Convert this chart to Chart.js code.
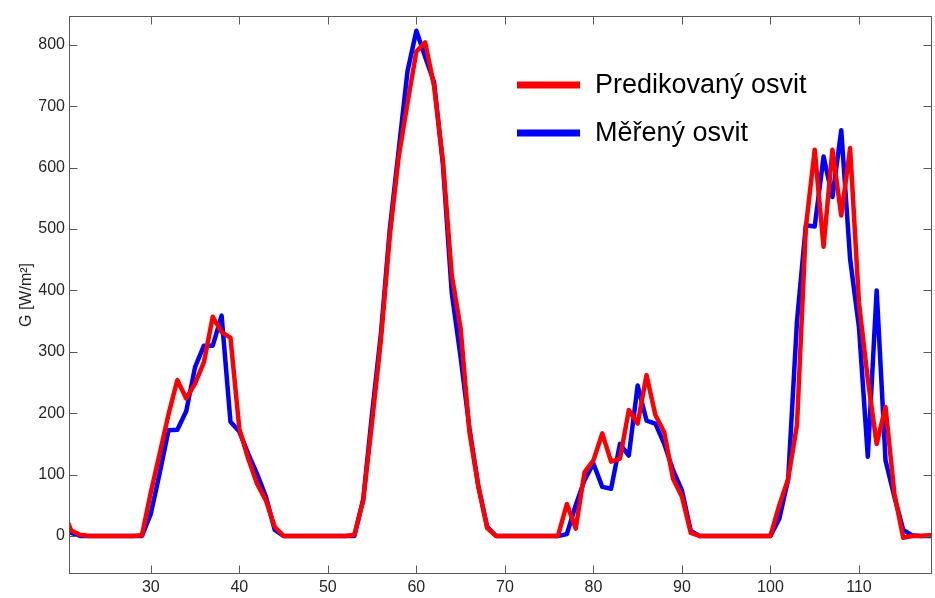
<!DOCTYPE html>
<html>
<head>
<meta charset="utf-8">
<script src="https://cdn.jsdelivr.net/npm/chart.js@4"></script>
<style>
html, body { margin: 0; padding: 0; background: #fff; }
#wrap { width: 935px; height: 598px; }
</style>
</head>
<body>
<div id="wrap"><canvas id="chart" width="935" height="598"></canvas></div>
<script>
// Data
const hours = [
    20, 21, 22, 23, 24, 25, 26, 27, 28, 29,
    30, 31, 32, 33, 34, 35, 36, 37, 38, 39,
    40, 41, 42, 43, 44, 45, 46, 47, 48, 49,
    50, 51, 52, 53, 54, 55, 56, 57, 58, 59,
    60, 61, 62, 63, 64, 65, 66, 67, 68, 69,
    70, 71, 72, 73, 74, 75, 76, 77, 78, 79,
    80, 81, 82, 83, 84, 85, 86, 87, 88, 89,
    90, 91, 92, 93, 94, 95, 96, 97, 98, 99,
    100, 101, 102, 103, 104, 105, 106, 107, 108, 109,
    110, 111, 112, 113, 114, 115, 116, 117, 118, 119
];
const predicted = [
    45, 9, 2, 0, 0, 0, 0, 0, 0, 1,
    71, 134, 198, 254, 224, 248, 283, 357, 332, 323,
    175, 126, 85, 58, 15, 0, 0, 0, 0, 0,
    0, 0, 0, 2, 58, 186, 320, 489, 617, 705,
    789, 804, 733, 611, 425, 338, 169, 81, 13, 0,
    0, 0, 0, 0, 0, 0, 0, 52, 12, 104,
    123, 167, 121, 126, 205, 183, 262, 197, 169, 93,
    64, 5, 0, 0, 0, 0, 0, 0, 0, 0,
    0, 50, 93, 181, 503, 629, 471, 629, 522, 632,
    380, 255, 150, 210, 69, -3, 0, 0, 1, 1
];
const measured = [
    22, 5, 0, 0, 0, 0, 0, 0, 0, 0,
    36, 102, 172, 173, 203, 275, 310, 310, 359, 186,
    170, 134, 101, 64, 10, 0, 0, 0, 0, 0,
    0, 0, 0, 0, 60, 200, 330, 500, 628, 757,
    823, 780, 739, 605, 396, 291, 175, 81, 15, 0,
    0, 0, 0, 0, 0, 0, 0, 3, 50, 91,
    118, 80, 77, 150, 131, 245, 188, 183, 150, 107,
    74, 8, 0, 0, 0, 0, 0, 0, 0, 0,
    0, 28, 92, 350, 506, 504, 618, 552, 661, 451,
    340, 129, 400, 123, 64, 10, 1, 0, 0, 0
];
const xTicks = [30, 40, 50, 60, 70, 80, 90, 100, 110];
const yTicks = [0, 100, 200, 300, 400, 500, 600, 700, 800];
const seriesNames = ['Predikovaný osvit', 'Měřený osvit'];
const seriesColors = ['#ff0000', '#0000ff'];

const FONT = "'Liberation Sans', Arial, Helvetica, sans-serif";
const AXIS_COLOR = '#595959';
const TEXT_COLOR = '#262626';
const TICK_LEN = 8;

const toPoints = values => hours.map((h, i) => ({ x: h, y: values[i] }));

// Axes box with inward tick marks (MATLAB look)
const boxPlugin = {
    id: 'box',
    afterDatasetsDraw(chart) {
        const { ctx, chartArea: a, scales } = chart;
        const l = Math.round(a.left) + 0.5, r = Math.round(a.right) - 0.5;
        const t = Math.round(a.top) + 0.5, b = Math.round(a.bottom) - 0.5;
        ctx.save();
        ctx.strokeStyle = AXIS_COLOR;
        ctx.lineWidth = 1;
        ctx.strokeRect(l, t, r - l, b - t);
        ctx.beginPath();
        scales.x.ticks.forEach(tk => {
            const px = Math.round(scales.x.getPixelForValue(tk.value)) + 0.5;
            ctx.moveTo(px, b); ctx.lineTo(px, b - TICK_LEN);
            ctx.moveTo(px, t); ctx.lineTo(px, t + TICK_LEN);
        });
        scales.y.ticks.forEach(tk => {
            const py = Math.round(scales.y.getPixelForValue(tk.value)) + 0.5;
            ctx.moveTo(l, py); ctx.lineTo(l + TICK_LEN, py);
            ctx.moveTo(r, py); ctx.lineTo(r - TICK_LEN, py);
        });
        ctx.stroke();
        ctx.restore();
    }
};

// Legend inside the plot, no frame
const legendPlugin = {
    id: 'insideLegend',
    afterDraw(chart) {
        const { ctx } = chart;
        ctx.save();
        ctx.font = '27px ' + FONT;
        ctx.textBaseline = 'middle';
        ctx.lineCap = 'butt';
        chart.data.datasets.forEach((ds, i) => {
            const y = 85 + i * 48;
            ctx.strokeStyle = ds.borderColor;
            ctx.lineWidth = 7;
            ctx.beginPath();
            ctx.moveTo(517, y);
            ctx.lineTo(580, y);
            ctx.stroke();
            ctx.fillStyle = '#000';
            ctx.fillText(ds.label, 595, y + 1);
        });
        ctx.restore();
    }
};

const ctx = document.getElementById('chart').getContext('2d');
new Chart(ctx, {
    type: 'line',
    data: {
        datasets: [
            { label: seriesNames[0], data: toPoints(predicted), borderColor: seriesColors[0], borderWidth: 4.5, clip: 0 },
            { label: seriesNames[1], data: toPoints(measured), borderColor: seriesColors[1], borderWidth: 4.5, clip: 0 }
        ]
    },
    options: {
        responsive: false,
        animation: false,
        devicePixelRatio: 1,
        layout: { padding: { top: 16, right: 3, left: 0, bottom: 0 } },
        elements: {
            point: { radius: 0 },
            line: { tension: 0, fill: false, borderJoinStyle: 'round' }
        },
        plugins: { legend: { display: false }, tooltip: { enabled: false } },
        scales: {
            x: {
                type: 'linear',
                min: 20.76,
                max: 118.25,
                afterFit: s => { s.height = 24; },
                afterBuildTicks: s => { s.ticks = xTicks.map(v => ({ value: v })); },
                grid: { display: false, drawTicks: false },
                border: { display: false },
                ticks: { padding: 4, color: TEXT_COLOR, font: { family: FONT, size: 16 }, maxRotation: 0, autoSkip: false }
            },
            y: {
                type: 'linear',
                min: -62,
                max: 847,
                afterFit: s => { s.width = 69; },
                afterBuildTicks: s => { s.ticks = yTicks.map(v => ({ value: v })); },
                grid: { display: false, drawTicks: false },
                border: { display: false },
                ticks: { padding: 4, color: TEXT_COLOR, font: { family: FONT, size: 16 }, autoSkip: false },
                title: {
                    display: true,
                    text: 'G [W/m²]',
                    color: TEXT_COLOR,
                    font: { family: FONT, size: 16 },
                    padding: { top: 17, bottom: 0 }
                }
            }
        }
    },
    plugins: [boxPlugin, legendPlugin]
});
</script>
</body>
</html>
